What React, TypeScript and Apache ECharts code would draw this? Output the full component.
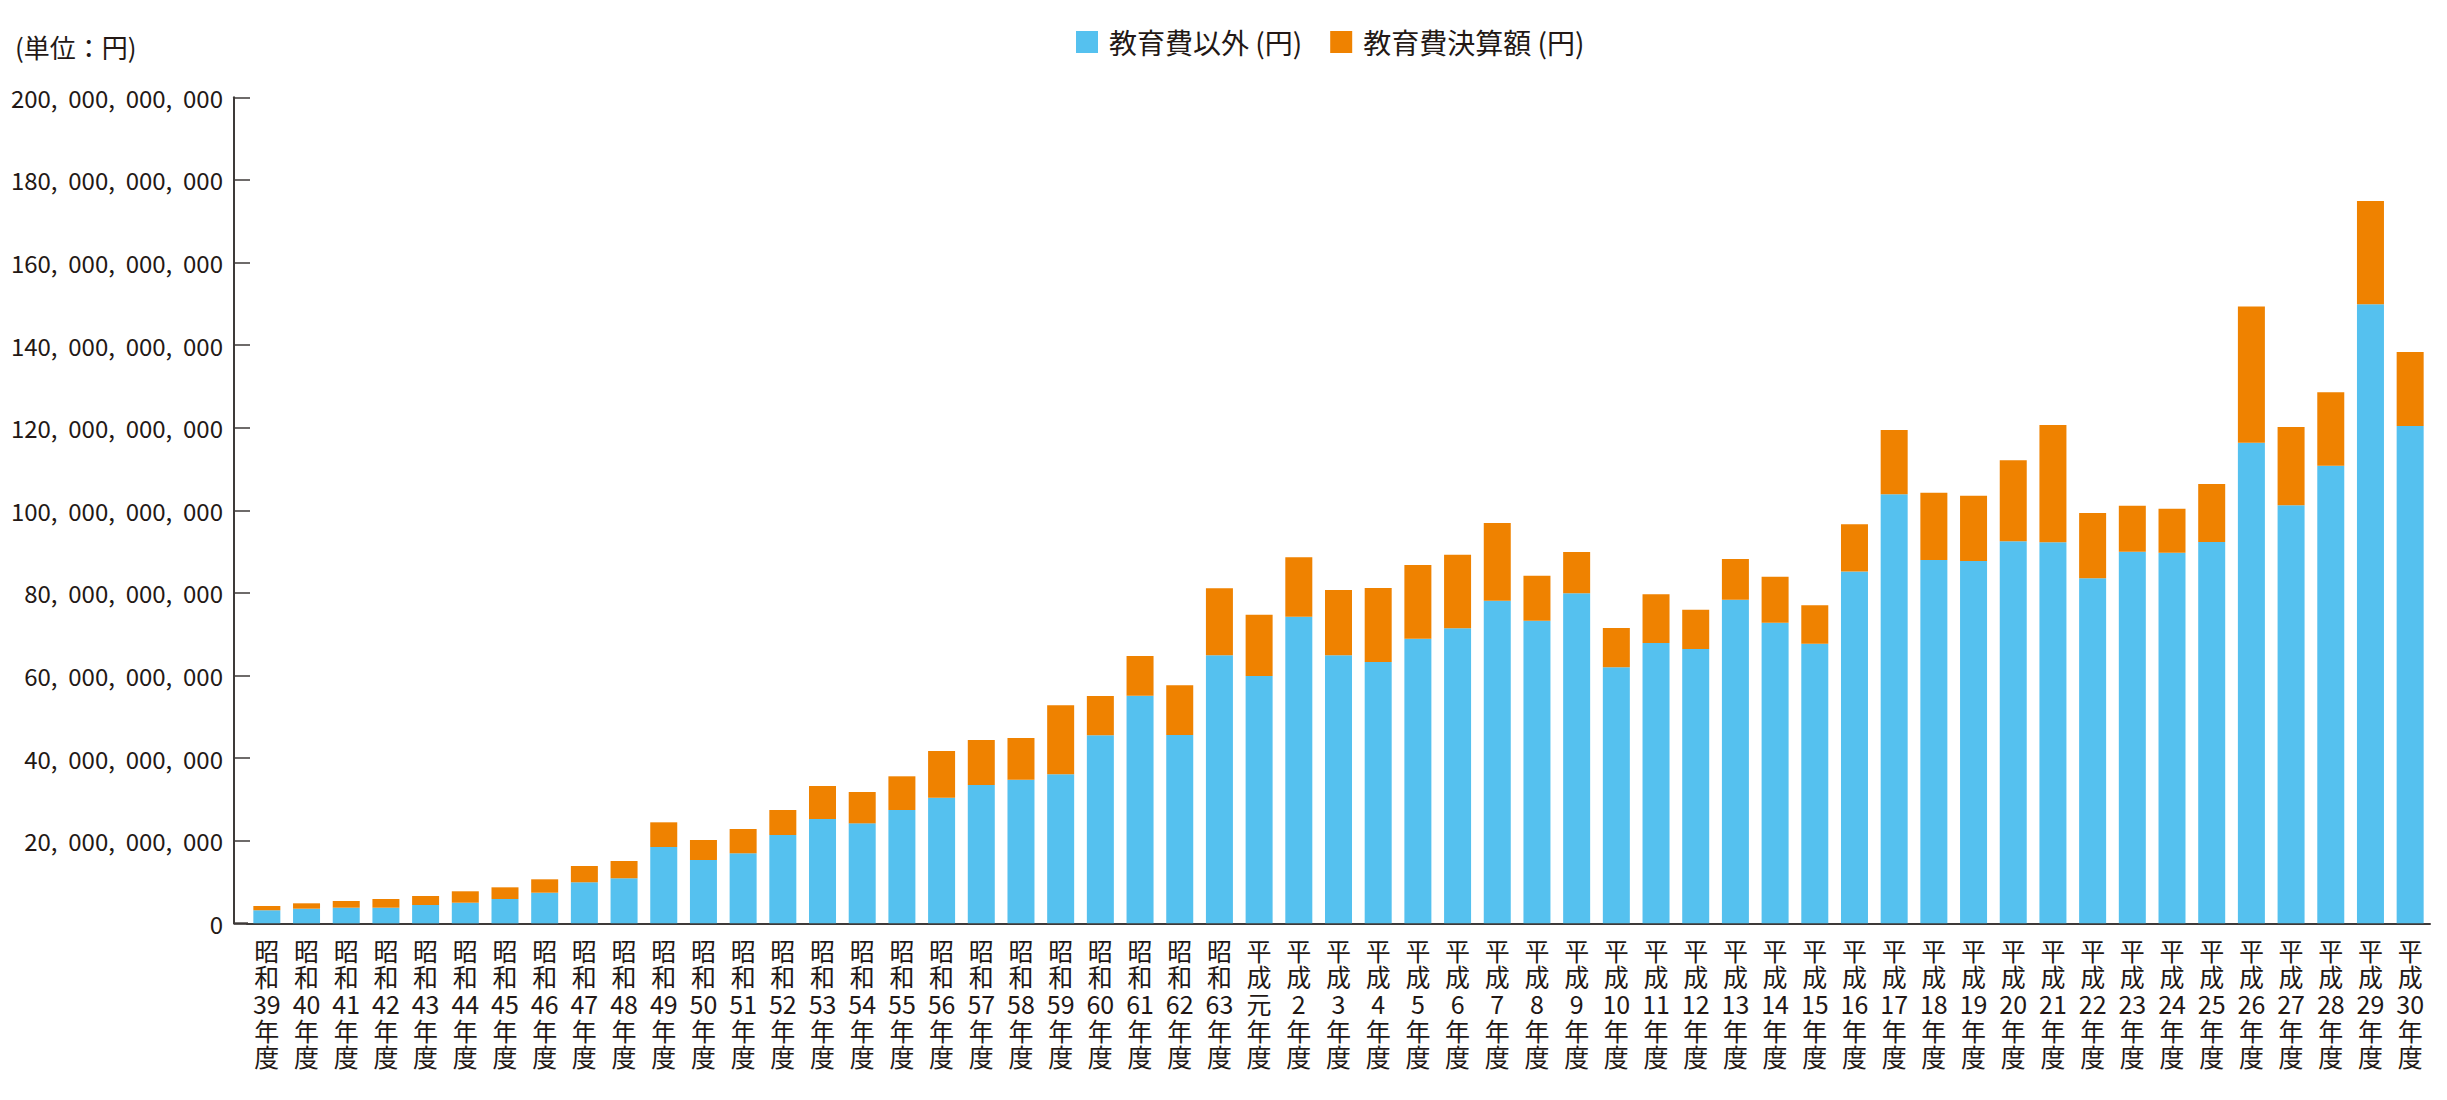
import React, { useEffect, useRef } from "react";
import * as echarts from "echarts";

const categories = [
  "昭和39年度", "昭和40年度", "昭和41年度", "昭和42年度", "昭和43年度", "昭和44年度", "昭和45年度",
  "昭和46年度", "昭和47年度", "昭和48年度", "昭和49年度", "昭和50年度", "昭和51年度", "昭和52年度",
  "昭和53年度", "昭和54年度", "昭和55年度", "昭和56年度", "昭和57年度", "昭和58年度", "昭和59年度",
  "昭和60年度", "昭和61年度", "昭和62年度", "昭和63年度", "平成元年度", "平成2年度", "平成3年度",
  "平成4年度", "平成5年度", "平成6年度", "平成7年度", "平成8年度", "平成9年度", "平成10年度",
  "平成11年度", "平成12年度", "平成13年度", "平成14年度", "平成15年度", "平成16年度", "平成17年度",
  "平成18年度", "平成19年度", "平成20年度", "平成21年度", "平成22年度", "平成23年度", "平成24年度",
  "平成25年度", "平成26年度", "平成27年度", "平成28年度", "平成29年度", "平成30年度",
];

// 教育費以外 (円)
const nonEducation = [
  3.15e9, 3.54e9, 3.78e9, 3.78e9, 4.43e9, 4.99e9, 5.88e9, 7.41e9, 9.93e9, 10.9e9,
  18.47e9, 15.33e9, 16.95e9, 21.38e9, 25.25e9, 24.2e9, 27.43e9, 30.41e9, 33.49e9, 34.77e9,
  36.07e9, 45.52e9, 55.11e9, 45.59e9, 64.89e9, 59.88e9, 74.24e9, 64.89e9, 63.27e9, 68.91e9,
  71.43e9, 78.11e9, 73.27e9, 79.9e9, 61.99e9, 67.87e9, 66.42e9, 78.35e9, 72.75e9, 67.7e9,
  85.2e9, 103.87e9, 87.97e9, 87.72e9, 92.49e9, 92.25e9, 83.53e9, 89.98e9, 89.74e9, 92.32e9,
  116.37e9, 101.2e9, 110.8e9, 149.88e9, 120.41e9,
];

// 教育費決算額 (円)
const education = [
  1.04e9, 1.3e9, 1.62e9, 2.1e9, 2.18e9, 2.76e9, 2.83e9, 3.24e9, 3.94e9, 4.18e9,
  5.98e9, 4.84e9, 5.88e9, 6.05e9, 7.99e9, 7.59e9, 8.16e9, 11.31e9, 10.89e9, 10.1e9,
  16.71e9, 9.52e9, 9.61e9, 12.04e9, 16.22e9, 14.84e9, 14.38e9, 15.81e9, 17.92e9, 17.85e9,
  17.82e9, 18.82e9, 10.9e9, 10.0e9, 9.51e9, 11.79e9, 9.51e9, 9.86e9, 11.15e9, 9.3e9,
  11.4e9, 15.57e9, 16.29e9, 15.82e9, 19.61e9, 28.4e9, 15.82e9, 11.13e9, 10.65e9, 14.05e9,
  32.98e9, 18.97e9, 17.77e9, 25.01e9, 17.92e9,
];

const yMin = 0;
const yMax = 200e9;
const yInterval = 20e9;

const seriesNames = ["教育費以外 (円)", "教育費決算額 (円)"];
const unitLabel = "(単位：円)";

const TEXT = "#231815";
const LINE = "#3e3a39";
const BLUE = "#55c1ef";
const ORANGE = "#ef8200";
const JP = "'Noto Sans CJK JP', 'Noto Sans', sans-serif";

function formatY(v: number): string {
  if (v === 0) return "0";
  return v.toLocaleString("en-US").replace(/,/g, ",  ");
}

function formatX(s: string): string {
  const era = s.slice(0, 2);
  const num = s.slice(2, s.length - 2);
  return [era[0], era[1], num, "年", "度"].join("\n");
}

export default function App() {
  const ref = useRef<HTMLDivElement>(null);

  useEffect(() => {
    document.body.style.margin = "0";
    document.body.style.overflow = "hidden";
    if (!ref.current) return;
    const chart = echarts.init(ref.current, undefined, { renderer: "svg" });
    const axisX = 234;
    const gridLeft = 247;
    const gridRight = 17;
    const gridTop = 97.3;
    const baseY = 923.3;
    chart.setOption({
      animation: false,
      backgroundColor: "#ffffff",
      title: {
        text: unitLabel,
        left: 15,
        top: 33,
        padding: 0,
        textStyle: { fontSize: 26, fontWeight: "normal", color: TEXT, fontFamily: JP },
      },
      legend: {
        data: seriesNames,
        left: 1076,
        top: 28,
        padding: 0,
        icon: "rect",
        itemWidth: 22,
        itemHeight: 22,
        itemGap: 28,
        textStyle: { fontSize: 28, color: TEXT, fontFamily: JP, padding: [0, 0, 0, 6] },
      },
      grid: {
        left: gridLeft,
        right: gridRight,
        top: gridTop,
        bottom: 1100 - baseY,
        containLabel: false,
        outerBoundsMode: "none",
      },
      xAxis: {
        type: "category",
        data: categories,
        axisLine: { show: true, lineStyle: { color: LINE, width: 2 } },
        axisTick: { show: false },
        axisLabel: {
          interval: 0,
          margin: 13,
          formatter: formatX,
          fontSize: 25,
          lineHeight: 26.7,
          color: TEXT,
          fontFamily: JP,
          align: "center",
        },
      },
      yAxis: {
        type: "value",
        min: yMin,
        max: yMax,
        interval: yInterval,
        offset: gridLeft - axisX,
        axisLine: { show: true, lineStyle: { color: LINE, width: 2 } },
        axisTick: { show: true, inside: true, length: 16, lineStyle: { color: LINE, width: 1.5 } },
        splitLine: { show: false },
        axisLabel: {
          margin: 11,
          formatter: formatY,
          fontSize: 24,
          color: TEXT,
          fontFamily: JP,
        },
      },
      graphic: [
        {
          type: "line",
          shape: { x1: axisX - 1, y1: baseY, x2: gridLeft + 1, y2: baseY },
          style: { stroke: LINE, lineWidth: 2 },
          silent: true,
        },
      ],
      series: [
        {
          name: seriesNames[0],
          type: "bar",
          stack: "total",
          data: nonEducation,
          barWidth: 27,
          itemStyle: { color: BLUE },
        },
        {
          name: seriesNames[1],
          type: "bar",
          stack: "total",
          data: education,
          barWidth: 27,
          itemStyle: { color: ORANGE },
        },
      ],
    });
    return () => chart.dispose();
  }, []);

  return <div ref={ref} style={{ width: 2447, height: 1100 }} />;
}
